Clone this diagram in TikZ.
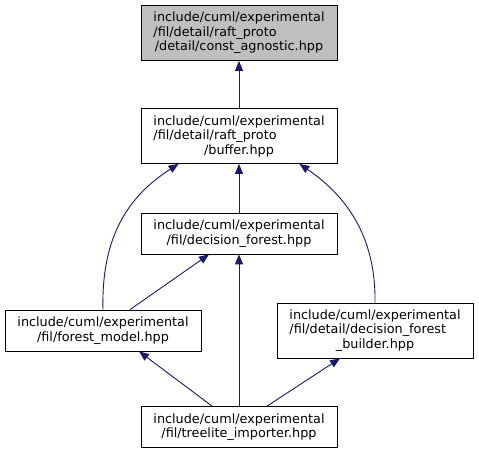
\documentclass[tikz,border=0pt]{standalone}
\usepackage{fontspec}
\setmainfont{DejaVu Sans}
\usetikzlibrary{arrows.meta}
\definecolor{edgeblue}{HTML}{191970}
\definecolor{curfill}{HTML}{BFBFBF}
\newsavebox\firstlinebox
% a line set flush left under the full-width first line of a label
\newcommand\lline[1]{\sbox\firstlinebox{include/cuml/experimental}%
  \makebox[\wd\firstlinebox][l]{#1}}
\begin{document}
\begin{tikzpicture}[x=1bp,y=-1bp,
  filebox/.style={draw=black, fill=white, line width=0.8bp, inner sep=0pt,
    minimum width=196bp, align=center,
    font=\fontsize{12.8bp}{14.5bp}\selectfont},
  tall/.style={minimum height=55bp},
  short/.style={minimum height=41bp},
  dep/.style={draw=edgeblue, line width=0.9bp,
    -{Triangle[length=10bp,width=8bp]}}]
\useasboundingbox (0,0) rectangle (479,453);

\node[filebox, tall, fill=curfill] (n1) at (239,33)
  {include/cuml/experimental\\\lline{/fil/detail/raft\_proto}\\/detail/const\_agnostic.hpp};
\node[filebox, tall] (n2) at (239,136)
  {include/cuml/experimental\\\lline{/fil/detail/raft\_proto}\\/buffer.hpp};
\node[filebox, short] (n3) at (239,233.5)
  {include/cuml/experimental\\/fil/decision\_forest.hpp};
\node[filebox, short] (n4) at (103,330.5)
  {include/cuml/experimental\\/fil/forest\_model.hpp};
\node[filebox, tall] (n5) at (375,330.5)
  {include/cuml/experimental\\\lline{/fil/detail/decision\_forest}\\\_builder.hpp};
\node[filebox, short] (n6) at (239,427)
  {include/cuml/experimental\\/fil/treelite\_importer.hpp};

% include dependencies: arrow points at the included header
\draw[dep] (n2) -- (n1);
\draw[dep] (n3) -- (n2);
\draw[dep] (n4.north) .. controls (101,235) and (130,195) .. ([xshift=38bp]n2.south west);
\draw[dep] ([xshift=27bp]n4.north) -- ([xshift=-30bp]n3.south);
\draw[dep] (n5.north) .. controls (376,235) and (345,195) .. ([xshift=-38bp]n2.south east);
\draw[dep] (n6) -- (n3);
\draw[dep] ([xshift=-27bp]n6.north) -- ([xshift=36bp]n4.south);
\draw[dep] ([xshift=28bp]n6.north) -- ([xshift=-35bp]n5.south);
\end{tikzpicture}
\end{document}
